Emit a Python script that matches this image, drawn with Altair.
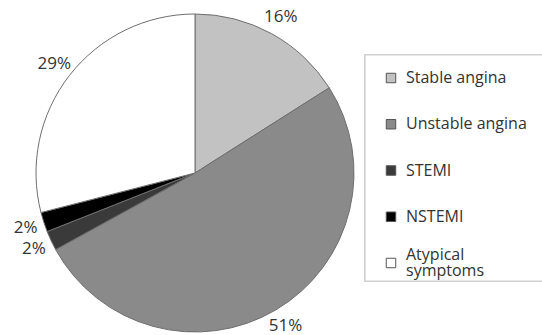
import altair as alt
import pandas as pd

# Share of patients by presentation
categories = ["Stable angina", "Unstable angina", "STEMI", "NSTEMI", "Atypical symptoms"]
legend_labels = ["Stable angina", "Unstable angina", "STEMI", "NSTEMI", "Atypical\nsymptoms"]
shares = [16, 51, 2, 2, 29]
fills = ["#c2c2c2", "#8a8a8a", "#3a3a3a", "#000000", "#ffffff"]

df = pd.DataFrame({
    "category": categories,
    "legend_label": legend_labels,
    "share": shares,
    "order": list(range(len(categories))),
})
df["pct"] = df["share"].astype(str) + "%"
df["lines"] = df["legend_label"].str.count("\n") + 1

FONT = "Open Sans"
CX, CY, R = 195, 173, 159

color = alt.Color("category:N", scale=alt.Scale(domain=categories, range=fills), legend=None)
theta = alt.Theta("share:Q", stack=True)
order = alt.Order("order:Q")

pie = alt.Chart(df).mark_arc(outerRadius=R, stroke="#6e6e6e", strokeWidth=1).encode(
    theta=theta, color=color, order=order,
    x=alt.value(CX), y=alt.value(CY),
)

pct_text = alt.Chart(df).mark_text(
    radius=178, font=FONT, fontSize=17, color="#333333", align="center", baseline="middle"
).encode(
    theta=theta, order=order, text="pct:N",
    x=alt.value(CX), y=alt.value(CY),
)

# Legend frame
frame = alt.Chart(df).mark_rect(fill="white", stroke="#cfcfcf", strokeWidth=1.2).encode(
    x=alt.value(365), x2=alt.value(560), y=alt.value(55), y2=alt.value(281)
)

row = alt.Y(
    "category:N",
    scale=alt.Scale(type="point", domain=categories, range=[78, 263], padding=0),
    axis=None,
)

swatches = alt.Chart(df).mark_point(
    shape="square", size=90, filled=True, stroke="#555555", strokeWidth=1, opacity=1
).encode(
    x=alt.value(391), y=row,
    fill=alt.Fill("category:N", scale=alt.Scale(domain=categories, range=fills), legend=None),
)

label_style = dict(
    align="left", baseline="middle", font=FONT, fontSize=16, color="#333333",
    lineBreak="\n", lineHeight=16,
)

# single-line entries
labels_single = alt.Chart(df).transform_filter("datum.lines == 1").mark_text(**label_style).encode(
    x=alt.value(406), y=row, text="legend_label:N",
)
# two-line entries, lifted so the block is centred on its swatch
labels_double = alt.Chart(df).transform_filter("datum.lines == 2").mark_text(dy=-8, **label_style).encode(
    x=alt.value(406), y=row, text="legend_label:N",
)

chart = alt.layer(pie, pct_text, frame, swatches, labels_single, labels_double).resolve_scale(
    color="independent", fill="independent"
).properties(
    width=542, height=335, padding=0, autosize=alt.AutoSizeParams(type="none"),
    background="white",
).configure_view(stroke=None)

chart.save("out.html", embed_options={"renderer": "svg", "actions": False})
